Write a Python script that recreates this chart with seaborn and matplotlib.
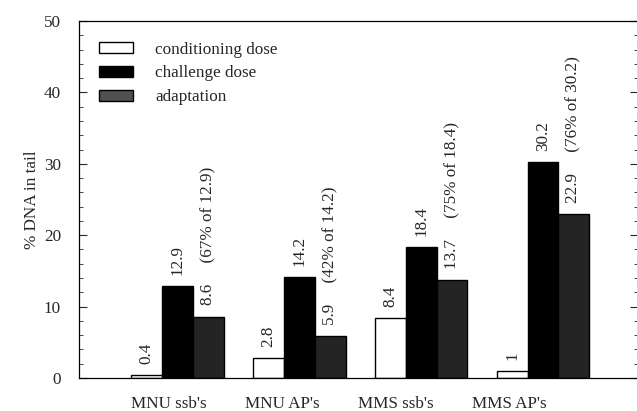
import pandas as pd
import seaborn as sns
import matplotlib as mpl
from matplotlib import pyplot as plt
from matplotlib.ticker import MultipleLocator

# values
assays = ["MNU ssb's", "MNU AP's", "MMS ssb's", "MMS AP's"]
doses = ['conditioning dose', 'challenge dose', 'adaptation']
conditioning = [0.4, 2.8, 8.4, 1]
challenge = [12.9, 14.2, 18.4, 30.2]
adaptation = [8.6, 5.9, 13.7, 22.9]
percent_of_challenge = [67, 42, 75, 76]
conditioning_text = ['0.4', '2.8', '8.4', '1']

df = pd.DataFrame({
    'assay': assays * 3,
    'dose': [d for d in doses for _ in assays],
    'value': conditioning + challenge + adaptation,
})

sns.set_style('ticks')
plt.rcParams['font.family'] = ['Liberation Serif', 'DejaVu Serif']
fs = 12.3
plt.rcParams['font.size'] = fs

fig = plt.figure(figsize=(6.37, 4.11), dpi=100)
ax = fig.add_axes([79/637, 33/411, 559/637, 357/411])

colors = {'conditioning dose': 'white', 'challenge dose': 'black', 'adaptation': '#242424'}
sns.barplot(data=df, x='assay', y='value', hue='dose', hue_order=doses,
            palette=colors, edgecolor='black', linewidth=1.0,
            width=0.76, gap=0, saturation=1, ax=ax)

# labels above bars
cont = ax.containers
ax.bar_label(cont[0], labels=conditioning_text, rotation=90, padding=8, fontsize=fs)
ax.bar_label(cont[1], labels=[str(v) for v in challenge], rotation=90, padding=8, fontsize=fs)
adapt_labels = ['%s     (%d%% of %s)' % (a, p, c)
                for a, p, c in zip(adaptation, percent_of_challenge, challenge)]
ax.bar_label(cont[2], labels=adapt_labels, rotation=90, padding=8, fontsize=fs)

ax.set_ylim(0, 50)
ax.set_xlim(-0.81, 3.78)
ax.yaxis.set_major_locator(MultipleLocator(10))
ax.yaxis.set_minor_locator(MultipleLocator(2))
ax.tick_params(axis='y', which='major', direction='in', length=6, width=0.8,
               pad=13, labelsize=fs, right=True)
ax.tick_params(axis='y', which='minor', direction='in', length=3, width=0.6, right=True)

# category labels sit a little left of the bar groups
ax.set_xticks([i * 0.93 - 0.07 for i in range(len(assays))])
ax.set_xticklabels(assays)
ax.tick_params(axis='x', length=0, pad=13, labelsize=fs)

for s in ax.spines.values():
    s.set_visible(True)
    s.set_linewidth(0.9)
    s.set_color('black')

ax.set_xlabel('')
ax.set_ylabel('% DNA in tail', fontsize=fs, labelpad=3)

leg = ax.legend(loc='upper left', bbox_to_anchor=(0.008, 0.985), frameon=False,
                handlelength=2.0, handleheight=0.6, handletextpad=1.3,
                labelspacing=0.45, fontsize=fs)
for h in leg.legend_handles:
    h.set_edgecolor('black')
    h.set_linewidth(1.0)
leg.legend_handles[2].set_facecolor('#505050')

fig.savefig('out.png', dpi=100)
